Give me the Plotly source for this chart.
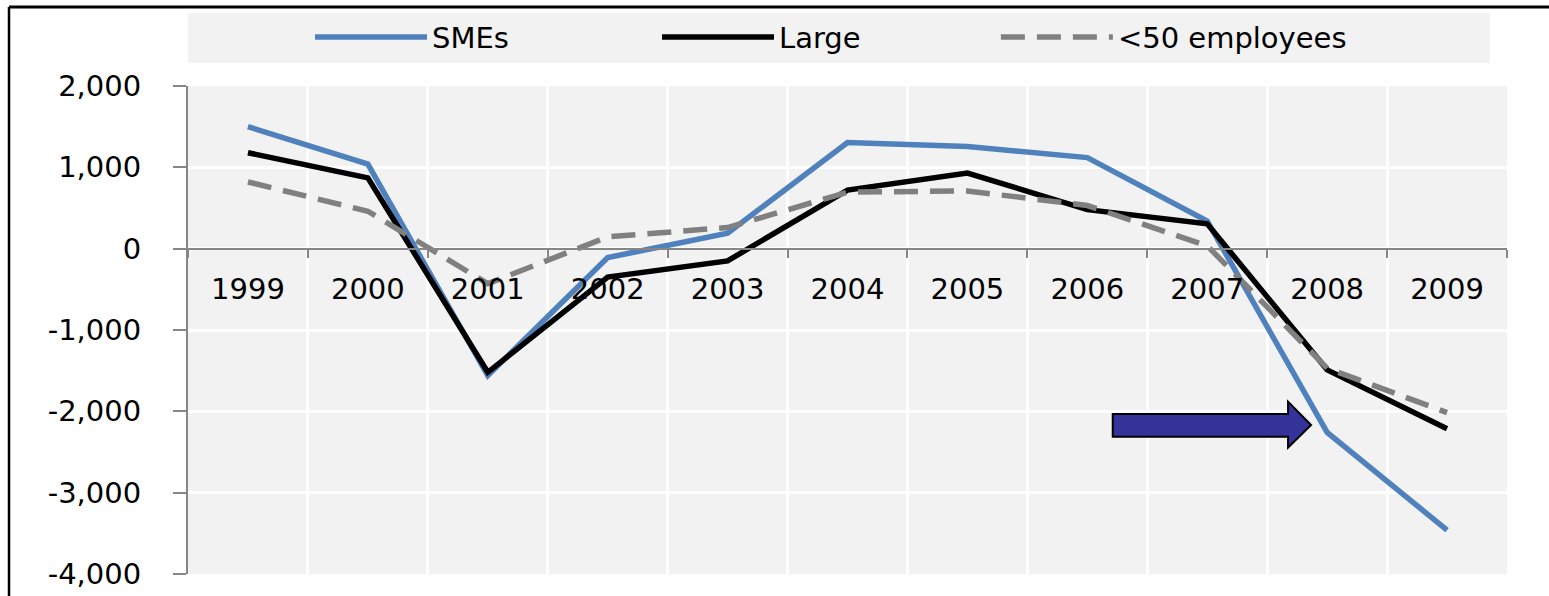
import plotly.graph_objects as go

years = ["1999", "2000", "2001", "2002", "2003", "2004", "2005", "2006", "2007", "2008", "2009"]
smes = [1500, 1040, -1560, -110, 190, 1305, 1255, 1120, 340, -2260, -3460]
large = [1180, 870, -1520, -350, -150, 720, 930, 480, 305, -1490, -2215]
small50 = [820, 460, -430, 145, 260, 695, 710, 530, 35, -1470, -2015]
y_tickvals = [2000, 1000, 0, -1000, -2000, -3000, -4000]
y_ticktext = ["2,000", "1,000", "0", "-1,000", "-2,000", "-3,000", "-4,000"]

FONT = "DejaVu Sans"
FS = 29

fig = go.Figure()
fig.add_trace(go.Scatter(x=years, y=smes, name="SMEs", mode="lines",
                         line=dict(color="#4f81bd", width=5.5), legend="legend"))
fig.add_trace(go.Scatter(x=years, y=large, name="Large", mode="lines",
                         line=dict(color="#000000", width=5.5), legend="legend"))
fig.add_trace(go.Scatter(x=years, y=small50, name="<50 employees", mode="lines",
                         line=dict(color="#808080", width=5.5, dash="24px,12px"),
                         legend="legend2"))

# arrow (data coordinates: category index, value)
arrow = ("M 7.212,-2032 L 8.674,-2032 L 8.674,-1881 L 8.866,-2168 "
         "L 8.674,-2447 L 8.674,-2312 L 7.212,-2312 Z")

shapes = [
    dict(type="rect", xref="paper", yref="paper", x0=0, x1=0.987, y0=1.047, y1=1.1496,
         fillcolor="#f2f2f2", line=dict(width=0), layer="below"),
    dict(type="line", xref="paper", yref="paper", x0=-0.1357, x1=-0.1357, y0=-0.1, y1=1.162,
         line=dict(color="black", width=2.5)),
    dict(type="line", xref="paper", yref="paper", x0=-0.1357, x1=1.05, y0=1.162, y1=1.162,
         line=dict(color="black", width=3)),
    dict(type="path", xref="x", yref="y", path=arrow, fillcolor="#333399",
         line=dict(color="black", width=2), layer="above"),
]

legend_common = dict(orientation="h", xanchor="left", y=1.1, yanchor="middle",
                     bgcolor="rgba(0,0,0,0)", font=dict(size=FS, family=FONT),
                     itemwidth=112, traceorder="normal")

fig.update_layout(
    width=1549, height=596,
    margin=dict(l=188, r=42, t=86, b=22, autoexpand=False),
    paper_bgcolor="white", plot_bgcolor="#f2f2f2",
    font=dict(family=FONT, size=FS, color="black"),
    showlegend=True,
    legend=dict(x=0.0925, entrywidth=220, entrywidthmode="pixels", **legend_common),
    legend2=dict(x=0.6125, **legend_common),
    shapes=shapes,
    xaxis=dict(type="category", tickson="boundaries", showgrid=True, gridcolor="white",
               gridwidth=2.5, showline=True, linecolor="#868686", linewidth=2,
               ticks="outside", ticklen=8, tickwidth=2, tickcolor="#868686",
               anchor="free", position=4/6, ticklabelstandoff=15,
               tickfont=dict(size=FS, family=FONT), zeroline=False,
               range=[-0.5, 10.5]),
    yaxis=dict(range=[-4000, 2000], tickvals=y_tickvals, ticktext=y_ticktext,
               showgrid=True, gridcolor="white", gridwidth=2.5, zeroline=False,
               showline=True, linecolor="#868686", linewidth=2, ticks="outside",
               ticklen=13, tickwidth=2, tickcolor="#868686", ticklabelstandoff=26,
               tickfont=dict(size=FS, family=FONT)),
)

fig.write_html("out.html")
